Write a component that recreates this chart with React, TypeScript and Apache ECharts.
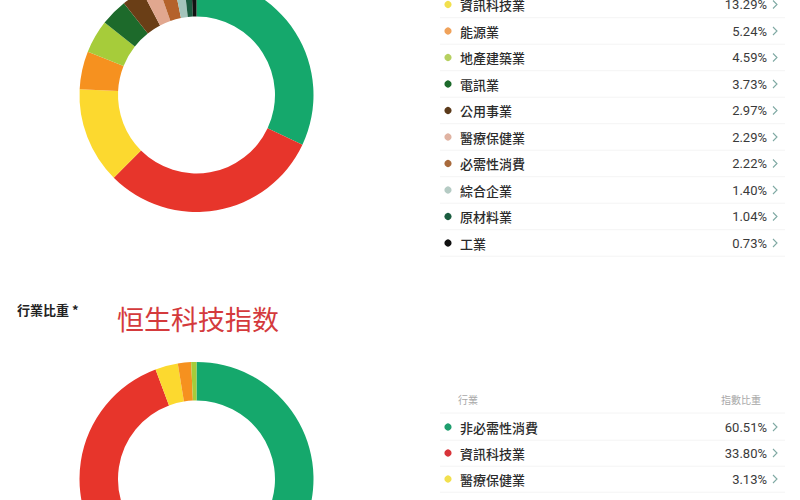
import React, { useEffect, useRef } from "react";
import * as echarts from "echarts";

// Top donut (恒生指數) – first two sectors are above the visible area of the list
const topNames = ["金融業", "非必需性消費", "資訊科技業", "能源業", "地產建築業", "電訊業", "公用事業", "醫療保健業", "必需性消費", "綜合企業", "原材料業", "工業"];
const topValues = [31.98, 30.52, 13.29, 5.24, 4.59, 3.73, 2.97, 2.29, 2.22, 1.40, 1.04, 0.73];
const topColors = ["#15a86c", "#e7352b", "#fcd92f", "#f6911f", "#a6cc3a", "#1d6a2b", "#6a3e16", "#e1a78f", "#b4622b", "#a3c4bb", "#1a5c3f", "#111111"];
const topDotColors = ["#15a86c", "#e7352b", "#f2e04e", "#f0a25a", "#b6d060", "#1d6a2b", "#5b3a1a", "#e0b3a2", "#a86a3c", "#b5cbc4", "#1a5c3f", "#111111"];
const topFirstVisible = 2;

// Bottom donut (恒生科技指数)
const botNames = ["非必需性消費", "資訊科技業", "醫療保健業", "工業", "其他"];
const botValues = [60.51, 33.8, 3.13, 1.83, 0.73];
const botColors = ["#15a86c", "#e7352b", "#fcd92f", "#f6911f", "#a6cc3a"];
const botDotColors = ["#1e9e6e", "#d8343a", "#f2e04e", "#f6911f", "#a6cc3a"];
const botVisibleRows = 3;

const titleSmall = "行業比重 *";
const titleBig = "恒生科技指数";
const headerLeft = "行業";
const headerRight = "指數比重";

const CJK = '"Noto Sans CJK TC", "Noto Sans", sans-serif';

export default function App() {
  const ref = useRef<HTMLDivElement>(null);
  useEffect(() => {
    document.body.style.margin = "0";
    const chart = echarts.init(ref.current!, undefined, { renderer: "svg" });

    const graphics: any[] = [];
    const addRow = (name: string, value: number, dot: string, y: number) => {
      graphics.push({ type: "circle", shape: { cx: 448, cy: y, r: 3.6 }, style: { fill: dot } });
      graphics.push({
        type: "text", x: 460, y, style: { text: name, fill: "#2b2b2b", font: `500 13px ${CJK}`, textVerticalAlign: "middle" },
      });
      graphics.push({
        type: "text", x: 767, y, style: { text: value.toFixed(2) + "%", fill: "#3a3a3a", font: `13px Roboto, sans-serif`, textAlign: "right", textVerticalAlign: "middle" },
      });
      graphics.push({
        type: "polyline", shape: { points: [[773, y - 4], [777, y], [773, y + 4]] }, style: { stroke: "#7fa9a3", lineWidth: 1.1, fill: null },
      });
      graphics.push({ type: "line", shape: { x1: 440, y1: y + 13.2, x2: 785, y2: y + 13.2 }, style: { stroke: "#f4f4f4", lineWidth: 1 } });
    };

    for (let i = topFirstVisible; i < topNames.length; i++) {
      addRow(topNames[i], topValues[i], topDotColors[i], 4.5 + (i - topFirstVisible) * 26.5);
    }
    graphics.push({ type: "text", x: 458, y: 399, style: { text: headerLeft, fill: "#a8a8a8", font: `10px ${CJK}`, textVerticalAlign: "middle" } });
    graphics.push({ type: "text", x: 761, y: 399, style: { text: headerRight, fill: "#a8a8a8", font: `10px ${CJK}`, textAlign: "right", textVerticalAlign: "middle" } });
    graphics.push({ type: "line", shape: { x1: 440, y1: 413, x2: 785, y2: 413 }, style: { stroke: "#f4f4f4", lineWidth: 1 } });
    for (let i = 0; i < botVisibleRows; i++) {
      addRow(botNames[i], botValues[i], botDotColors[i], 427 + i * 26);
    }
    graphics.push({ type: "text", x: 17, y: 309, style: { text: titleSmall, fill: "#222", font: `bold 13px ${CJK}`, textVerticalAlign: "middle" } });
    graphics.push({ type: "text", x: 117, y: 318, style: { text: titleBig, fill: "#d43a3c", font: `27px ${CJK}`, textVerticalAlign: "middle" } });

    const pie = (names: string[], values: number[], colors: string[], cy: number) => ({
      type: "pie",
      center: [196.5, cy],
      radius: [78.5, 117],
      startAngle: 90,
      clockwise: true,
      label: { show: false },
      labelLine: { show: false },
      silent: true,
      itemStyle: { borderWidth: 0 },
      data: names.map((n, i) => ({ name: n, value: values[i], itemStyle: { color: colors[i] } })),
    });

    chart.setOption({
      animation: false,
      backgroundColor: "#ffffff",
      series: [pie(topNames, topValues, topColors, 95), pie(botNames, botValues, botColors, 479)],
      graphic: graphics,
    });
    return () => chart.dispose();
  }, []);
  return <div ref={ref} style={{ width: 800, height: 500, position: "absolute", left: 0, top: 0 }} />;
}
